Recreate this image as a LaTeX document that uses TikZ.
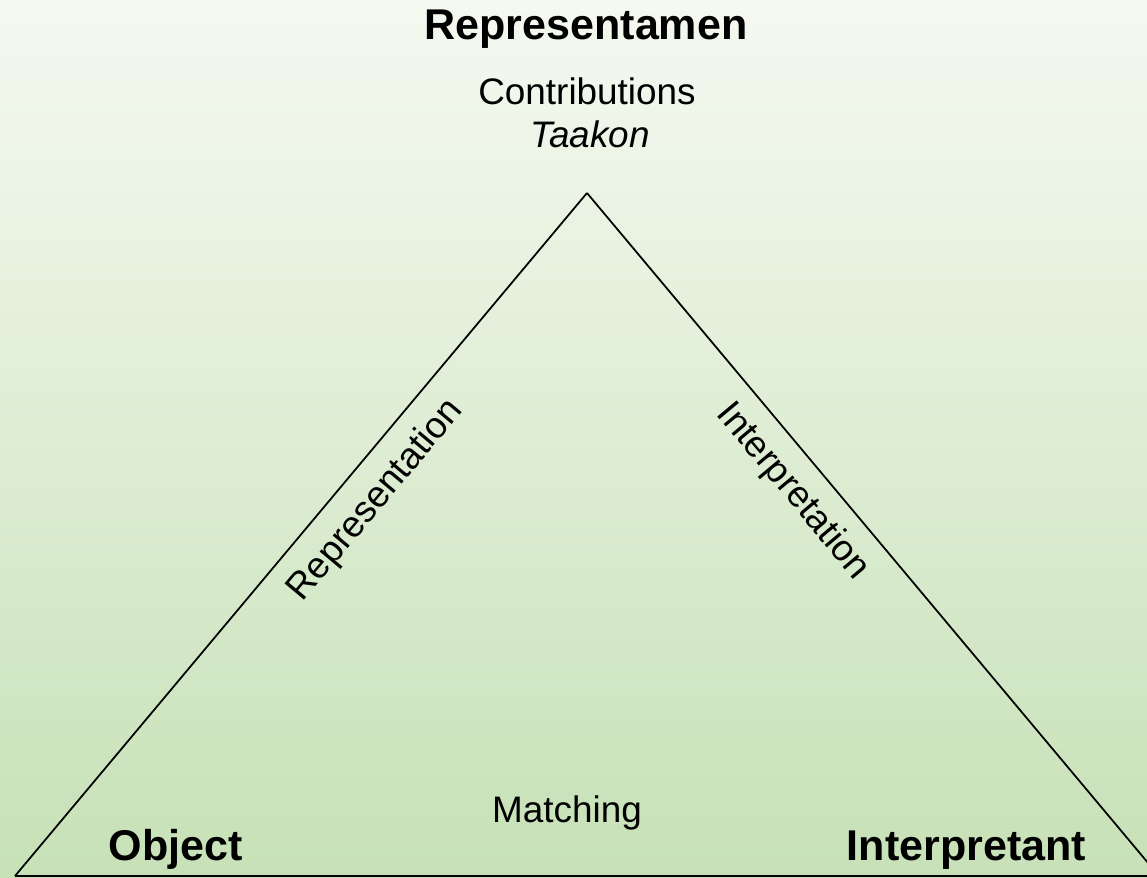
\documentclass[tikz,border=0pt]{standalone}
\usepackage{fontspec}
\setmainfont{Liberation Sans}
\definecolor{bgtop}{RGB}{245,249,241}
\definecolor{bgbot}{RGB}{199,225,183}
\tikzset{
  title/.style={font=\fontsize{24.5pt}{29pt}\selectfont\bfseries, anchor=base, inner sep=0pt},
  plain/.style={font=\fontsize{21pt}{25pt}\selectfont, anchor=base, inner sep=0pt},
  edgelabel/.style={font=\fontsize{21pt}{25pt}\selectfont, sloped, inner sep=0pt},
  side/.style={draw=black, line width=1pt}
}
\begin{document}
\begin{tikzpicture}[x=0.02cm,y=0.02cm]
\shade[top color=bgtop, bottom color=bgbot] (0,0) rectangle (1147,877);
\useasboundingbox (0,0) rectangle (1147,877);
\coordinate (O) at (15,1);
\coordinate (R) at (587,684);
\coordinate (I) at (1159,1);
\draw[side] (O) -- node[edgelabel, pos=0.583, below=10pt] {Representation} (R);
\draw[side] (R) -- node[edgelabel, pos=0.405, below=9pt] {Interpretation} (I);
\draw[side] (I) -- (O);
\node[title] (rep) at (586,837) {Representamen};
\node[plain] (contr) at (587,772) {Contributions};
\node[plain] (taakon) at (590,729) {\itshape Taakon};
\node[plain] (match) at (567,55) {Matching};
\node[title] (obj) at (175.5,17) {Object};
\node[title] (interp) at (966.5,17) {Interpretant};
\end{tikzpicture}
\end{document}
